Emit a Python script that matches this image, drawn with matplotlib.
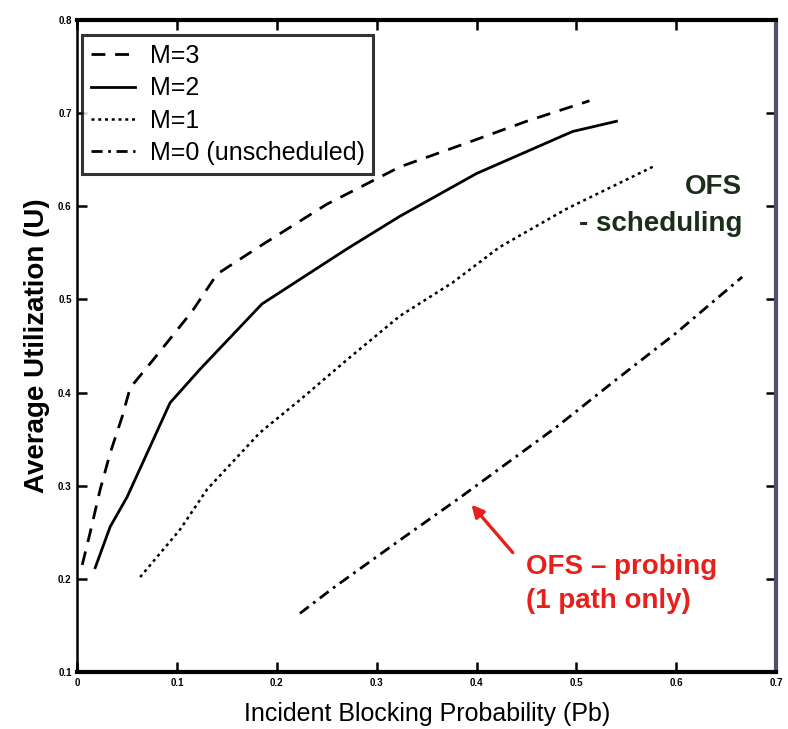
import matplotlib
matplotlib.use("Agg")
import matplotlib.pyplot as plt

plt.rcParams['font.family'] = ['Liberation Sans', 'DejaVu Sans']

# Data
m3_x = [0.005, 0.013, 0.023, 0.033, 0.045, 0.053, 0.076, 0.115, 0.140, 0.183, 0.250, 0.323, 0.396, 0.450, 0.513]
m3_y = [0.215, 0.250, 0.296, 0.335, 0.374, 0.405, 0.435, 0.487, 0.527, 0.557, 0.602, 0.642, 0.670, 0.691, 0.713]

m2_x = [0.018, 0.033, 0.050, 0.093, 0.123, 0.185, 0.270, 0.323, 0.400, 0.496, 0.540]
m2_y = [0.212, 0.256, 0.288, 0.389, 0.425, 0.495, 0.554, 0.589, 0.635, 0.680, 0.691]

m1_x = [0.063, 0.103, 0.130, 0.183, 0.223, 0.270, 0.323, 0.376, 0.423, 0.490, 0.578]
m1_y = [0.202, 0.253, 0.296, 0.357, 0.392, 0.435, 0.482, 0.518, 0.556, 0.597, 0.643]

m0_x = [0.223, 0.256, 0.321, 0.383, 0.480, 0.540, 0.600, 0.666]
m0_y = [0.163, 0.190, 0.240, 0.287, 0.363, 0.414, 0.464, 0.524]

labels = ['M=3', 'M=2', 'M=1', 'M=0 (unscheduled)']
ticks_x = [0, 0.1, 0.2, 0.3, 0.4, 0.5, 0.6, 0.7]
ticks_y = [0.1, 0.2, 0.3, 0.4, 0.5, 0.6, 0.7, 0.8]
tick_lbl_x = ['0', '0.1', '0.2', '0.3', '0.4', '0.5', '0.6', '0.7']
tick_lbl_y = ['0.1', '0.2', '0.3', '0.4', '0.5', '0.6', '0.7', '0.8']

fig = plt.figure(figsize=(7.88, 7.29), dpi=100)
ax = fig.add_axes([0.098, 0.078, 0.887, 0.895])

ax.plot(m3_x, m3_y, color='black', lw=2, ls=(0, (5, 3.5)), label=labels[0])
ax.plot(m2_x, m2_y, color='black', lw=2, ls='-', label=labels[1])
ax.plot(m1_x, m1_y, color='black', lw=1.8, ls=(0, (1.2, 1.5)), label=labels[2])
ax.plot(m0_x, m0_y, color='black', lw=2, ls=(0, (4, 2, 1, 2)), label=labels[3])

ax.set_xlim(0, 0.7)
ax.set_ylim(0.1, 0.8)
ax.set_xticks(ticks_x)
ax.set_xticklabels(tick_lbl_x, fontsize=7, fontweight='bold')
ax.set_yticks(ticks_y)
ax.set_yticklabels(tick_lbl_y, fontsize=7, fontweight='bold')
ax.tick_params(direction='in', length=7, width=1.8, top=True, right=True, pad=4)

for s in ['bottom', 'top']:
    ax.spines[s].set_linewidth(3)
ax.spines['left'].set_linewidth(1.8)
ax.spines['right'].set_linewidth(3)
ax.spines['right'].set_color('#55506a')

ax.set_xlabel('Incident Blocking Probability (Pb)', fontsize=18, labelpad=10)
ax.set_ylabel('Average Utilization (U)', fontsize=20, fontweight='bold', labelpad=6)

leg = ax.legend(loc='upper left', fontsize=18, frameon=True, fancybox=False,
                edgecolor='black', handlelength=1.75, handletextpad=0.6, borderpad=0.35,
                labelspacing=0.33, borderaxespad=0, bbox_to_anchor=(0.007, 0.976))
leg.get_frame().set_linewidth(2.2)

ax.text(0.951, 0.715, 'OFS\n- scheduling', transform=ax.transAxes, ha='right', va='center',
        fontsize=20, fontweight='bold', color='#1a2e1a', linespacing=1.55, multialignment='right')

ax.annotate('', xy=(0.393, 0.282), xytext=(0.438, 0.226),
            arrowprops=dict(arrowstyle='-|>', color='#e8201c', lw=2.4, mutation_scale=18))
ax.text(0.449, 0.1946, 'OFS \u2013 probing\n(1 path only)', ha='left', va='center',
        fontsize=20, fontweight='bold', color='#e8201c', linespacing=1.37)

fig.savefig('out.png', dpi=100)
